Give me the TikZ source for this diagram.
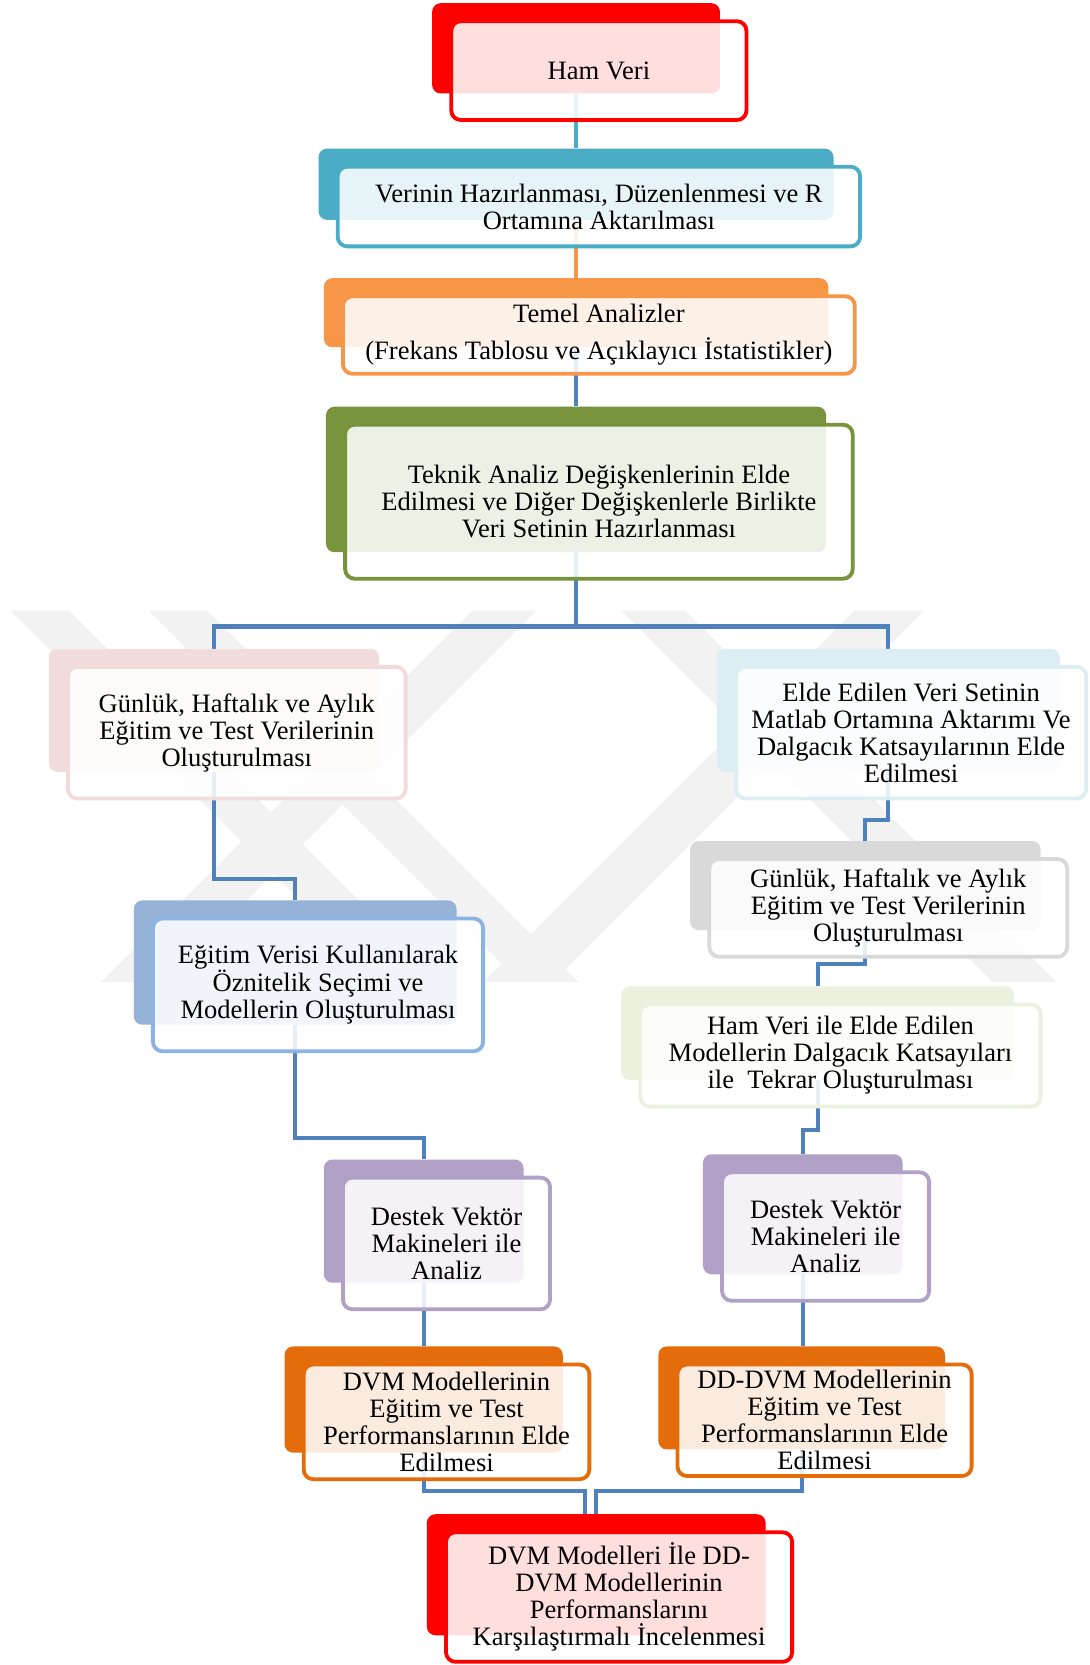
\documentclass[tikz,border=0pt]{standalone}
\usepackage{fontspec}
\setmainfont{Liberation Serif}
\usetikzlibrary{calc}

\pgfdeclarelayer{mark}
\pgfdeclarelayer{links}
\pgfdeclarelayer{plates}
\pgfsetlayers{mark,links,plates,main}

\definecolor{cRed}{HTML}{FF0000}
\definecolor{cTeal}{HTML}{4BACC6}
\definecolor{cOrange}{HTML}{F79646}
\definecolor{cOlive}{HTML}{77933C}
\definecolor{cPink}{HTML}{F2DCDB}
\definecolor{cIce}{HTML}{DBEEF4}
\definecolor{cGrey}{HTML}{D9D9D9}
\definecolor{cMint}{HTML}{EBF1DE}
\definecolor{cSteel}{HTML}{95B3D7}
\definecolor{cSteelLine}{HTML}{8DB3E2}
\definecolor{cLilac}{HTML}{B2A1C7}
\definecolor{cRust}{HTML}{E46C0A}
\definecolor{cLink}{HTML}{4F81BD}

\tikzset{
  cardface/.style={draw=#1, line width=3.6, rounded corners=9, fill=white,
    fill opacity=0.87, text opacity=1, draw opacity=1, align=center,
    inner sep=0pt, text=black, font=\fontsize{25}{25.5}\selectfont},
  cardplate/.style={fill=#1, rounded corners=8, inner sep=0pt, draw=none},
  flowline/.style={draw=#1, line width=3.8},
  flowline/.default=cLink,
  markband/.style={fill=black!5},
}

% #1 name, #2 plate colour, #3 face colour, #4-#7 plate corners (x1,y1,x2,y2), #8 text
\newcommand\flowcard[8]{%
  \node[cardface=#3, minimum width={#6-#4+7}, minimum height={#7-#5+8}]
    (#1) at ({(#4+#6+43)/2},{(#5+#7+42)/2}) {#8};
  \begin{pgfonlayer}{plates}
    \node[cardplate=#2, minimum width={#6-#4}, minimum height={#7-#5}]
      (#1-p) at ({(#4+#6)/2},{(#5+#7)/2}) {};
  \end{pgfonlayer}
}

\begin{document}
\begin{tikzpicture}[x=1pt, y=-1pt]
\useasboundingbox (0,0) rectangle (1026,1568);

% background and faint emblem
\begin{pgfonlayer}{mark}
  \fill[white] (0,0) rectangle (1026,1568);
  \fill[markband] (10,575) -- (65,575) -- (415,925) -- (360,925) -- cycle;
  \fill[markband] (140,575) -- (195,575) -- (545,925) -- (490,925) -- cycle;
  \fill[markband] (445,575) -- (505,575) -- (155,925) -- (95,925) -- cycle;
  \fill[markband] (805,575) -- (870,575) -- (520,925) -- (455,925) -- cycle;
  \fill[markband] (585,575) -- (645,575) -- (995,925) -- (935,925) -- cycle;
\end{pgfonlayer}

% main column
\flowcard{ham}{cRed}{cRed}{407}{3}{678}{88}{Ham Veri}
\flowcard{ver}{cTeal}{cTeal}{300}{140}{785}{207}{Verinin Hazırlanması, Düzenlenmesi ve R\\Ortamına Aktarılması}
\flowcard{tem}{cOrange}{cOrange}{305}{262}{780}{327}{Temel Analizler\\[9.5pt](Frekans Tablosu ve Açıklayıcı İstatistikler)}
\flowcard{tek}{cOlive}{cOlive}{307}{383}{778}{520}{Teknik Analiz Değişkenlerinin Elde\\Edilmesi ve Diğer Değişkenlerle Birlikte\\Veri Setinin Hazırlanması}

% left branch
\flowcard{gunL}{cPink}{cPink}{46}{611}{357}{727}{Günlük, Haftalık ve Aylık\\Eğitim ve Test Verilerinin\\Oluşturulması}
\flowcard{egt}{cSteel}{cSteelLine}{126}{848}{430}{965}{Eğitim Verisi Kullanılarak\\Öznitelik Seçimi ve\\Modellerin Oluşturulması}
\flowcard{dvL}{cLilac}{cLilac}{305}{1092}{493}{1208}{Destek Vektör\\Makineleri ile\\Analiz}
\flowcard{dvm}{cRust}{cRust}{268}{1268}{530}{1368}{DVM Modellerinin\\Eğitim ve Test\\Performanslarının Elde\\Edilmesi}

% right branch
\flowcard{elde}{cIce}{cIce}{675}{611}{998}{727}{Elde Edilen Veri Setinin\\Matlab Ortamına Aktarımı Ve\\Dalgacık Katsayılarının Elde\\Edilmesi}
\flowcard{gunR}{cGrey}{cGrey}{650}{792}{980}{876}{Günlük, Haftalık ve Aylık\\Eğitim ve Test Verilerinin\\Oluşturulması}
\flowcard{hvi}{cMint}{cMint}{585}{929}{955}{1017}{Ham Veri ile Elde Edilen\\Modellerin Dalgacık Katsayıları\\ile~~Tekrar Oluşturulması}
\flowcard{dvR}{cLilac}{cLilac}{662}{1087}{850}{1200}{Destek Vektör\\Makineleri ile\\Analiz}
\flowcard{dd}{cRust}{cRust}{620}{1268}{890}{1365}{DD-DVM Modellerinin\\Eğitim ve Test\\Performanslarının Elde\\Edilmesi}

% closing card
\flowcard{fin}{cRed}{cRed}{402}{1426}{721}{1540}{DVM Modelleri İle DD-\\DVM Modellerinin\\Performanslarını\\Karşılaştırmalı İncelenmesi}

% bend levels of the connectors
\coordinate (fork) at (0,590);
\coordinate (bendA) at (0,828);
\coordinate (bendB) at (0,1072);
\coordinate (bendC) at (0,772);
\coordinate (bendD) at (0,908);
\coordinate (bendE) at (0,1064);
\coordinate (bendF) at (0,1404);

\begin{pgfonlayer}{links}
  \draw[flowline=cTeal] (ham-p.south) -- (ham-p.south |- ver-p.north);
  \draw[flowline=cOrange] (ver-p.south) -- (ver-p.south |- tem-p.north);
  \draw[flowline] (tem-p.south) -- (tem-p.south |- tek-p.north);
  \draw[flowline] (tek-p.south) -- (tek-p.south |- fork) -| (gunL-p.north);
  \draw[flowline] (tek-p.south |- fork) -| (elde-p.north);
  % left branch
  \draw[flowline] (gunL-p.south) -- (gunL-p.south |- bendA) -| (egt-p.north);
  \draw[flowline] (egt-p.south) -- (egt-p.south |- bendB) -| (dvL-p.north);
  \draw[flowline] (dvL-p.south) -- (dvL-p.south |- dvm-p.north);
  \draw[flowline] (dvm-p.south) -- (dvm-p.south |- bendF) -| ([xshift=-11pt]fin-p.north);
  % right branch
  \draw[flowline] (elde-p.south) -- (elde-p.south |- bendC) -| (gunR-p.north);
  \draw[flowline] (gunR-p.south) -- (gunR-p.south |- bendD) -| (hvi-p.north);
  \draw[flowline] (hvi-p.south) -- (hvi-p.south |- bendE) -| (dvR-p.north);
  \draw[flowline] (dvR-p.south) -- (dvR-p.south |- dd-p.north);
  \draw[flowline] (dd-p.south) -- (dd-p.south |- bendF) -| (fin-p.north);
\end{pgfonlayer}
\end{tikzpicture}
\end{document}
